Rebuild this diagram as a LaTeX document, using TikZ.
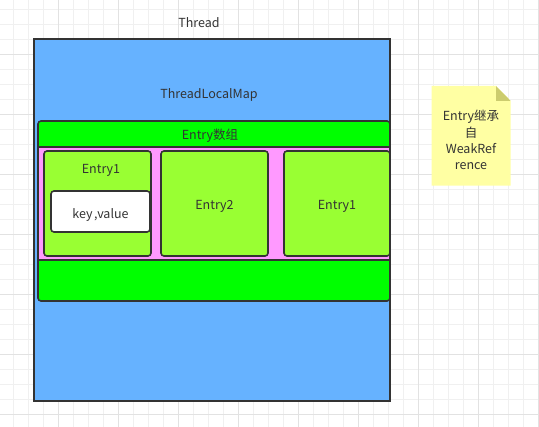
\documentclass[tikz,border=0pt]{standalone}
\usepackage{fontspec}
\setmainfont[WordSpace=0.6]{Noto Sans CJK SC}
\definecolor{ink}{HTML}{333333}
\definecolor{threadblue}{HTML}{66B2FF}
\definecolor{arrgreen}{HTML}{00FF00}
\definecolor{slotpink}{HTML}{FF99FF}
\definecolor{entrygreen}{HTML}{99FF33}
\definecolor{noteyellow}{HTML}{FFFFA3}
\definecolor{notefold}{HTML}{CCCC6E}
\definecolor{gridminor}{HTML}{F0F0F0}
\definecolor{gridmajor}{HTML}{E2E2E2}
\tikzset{
  box/.style={draw=ink, line width=1.6pt, inner sep=0pt, anchor=center},
  entrybox/.style={box, fill=entrygreen, rounded corners=3pt,
    minimum height=105pt},
  lbl/.style={text=ink, inner sep=0pt, yshift=-3pt,
    font=\fontsize{12.5}{15}\selectfont}
}
\begin{document}
\begin{tikzpicture}[x=1pt,y=-1pt]
\useasboundingbox (0,0) rectangle (539,427);
\fill[white] (0,0) rectangle (539,427);
% background grid
\foreach \i in {0,...,35}
  \draw[gridminor, line width=0.8pt] ({13.3+15*\i},0) -- ({13.3+15*\i},427);
\foreach \i in {0,...,28}
  \draw[gridminor, line width=0.8pt] (0,{9+15*\i}) -- (539,{9+15*\i});
\foreach \i in {0,...,8}
  \draw[gridmajor, line width=0.8pt] ({58.3+60*\i},0) -- ({58.3+60*\i},427);
\foreach \i in {0,...,6}
  \draw[gridmajor, line width=0.8pt] (0,{54+60*\i}) -- (539,{54+60*\i});
% thread and map
\node[box, fill=threadblue, minimum width=356pt, minimum height=362pt]
  (thread) at (212,220) {};
\node[lbl] (threadlbl) at (199,20) {Thread};
\node[lbl] (maplbl) at (209,92) {ThreadLocalMap};
% entry array
\node[box, fill=arrgreen, rounded corners=3pt, minimum width=352pt,
  minimum height=180pt] (arr) at (214,211) {};
\node[lbl] (arrlbl) at (210,133) {Entry数组};
\node[box, fill=slotpink, minimum width=352pt, minimum height=113pt]
  (slots) at (214,203.5) {};
% entries
\node[entrybox, minimum width=107pt] (e1) at (97.5,203.5) {};
\node[lbl] (e1lbl) at (101,167) {Entry1};
\node[box, fill=white, rounded corners=3pt, minimum width=99pt,
  minimum height=41pt] (kv) at (100.5,211.5) {};
\node[lbl] (kvlbl) at (kv.center) {key ,value};
\node[entrybox, minimum width=107pt] (e2) at (214.5,203.5) {};
\node[lbl] (e2lbl) at (e2.center) {Entry2};
\node[entrybox, minimum width=106pt] (e3) at (337,203.5) {};
\node[lbl] (e3lbl) at (e3.center) {Entry1};
% note
\fill[noteyellow] (431.7,86) -- (496,86) -- (510.7,101) -- (510.7,185.7)
  -- (431.7,185.7) -- cycle;
\fill[notefold] (496,86) -- (510.7,101) -- (496,101) -- cycle;
\node[lbl, align=center, font=\fontsize{12.5}{16.2}\selectfont] (note)
  at (471,137) {Entry继承\\自\\WeakRef\\rence};
\end{tikzpicture}
\end{document}
